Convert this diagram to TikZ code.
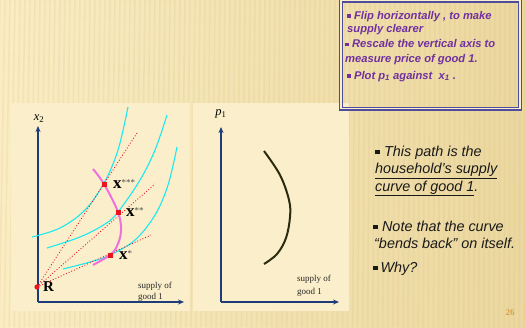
\documentclass[tikz,border=0pt]{standalone}
\usepackage{fontspec}
\setmainfont{Liberation Serif}
\setsansfont{Liberation Sans}
\usetikzlibrary{arrows.meta}
\definecolor{bgA}{HTML}{FAEDC4}
\definecolor{bgB}{HTML}{EBD79F}
\definecolor{stripe}{HTML}{D9BE78}
\definecolor{panel}{HTML}{FBEFCB}
\definecolor{axisblue}{HTML}{1F3C7A}
\definecolor{icyan}{HTML}{1CE8F0}
\definecolor{pathmag}{HTML}{F070E0}
\definecolor{ptred}{HTML}{E8141E}
\definecolor{boxline}{HTML}{4E4C9E}
\definecolor{boxtext}{HTML}{7030A0}
\definecolor{supcurve}{HTML}{2B2B10}
\definecolor{pagenum}{HTML}{D9A24A}
\newcommand{\mybul}{\raisebox{0.2ex}{\rule{0.34em}{0.34em}}}
\begin{document}
\begin{tikzpicture}[x=1pt,y=-1pt,
  axis/.style={draw=axisblue,line width=1.4pt,-{Stealth[length=6pt,width=5pt]}},
  icurve/.style={draw=icyan,line width=1.1pt},
  budget/.style={draw=ptred,line width=0.9pt,dotted},
  ptsq/.style={fill=ptred,minimum size=5pt,inner sep=0pt,rectangle},
  lbl/.style={font=\fontsize{9}{10}\selectfont,text=black!85,anchor=base west,inner sep=0pt},
  boxtxt/.style={font=\sffamily\bfseries\itshape\fontsize{11.2}{13}\selectfont,text=boxtext,anchor=base west,inner sep=0pt},
  sidetxt/.style={font=\sffamily\itshape\fontsize{14.4}{17}\selectfont,text=black!90,anchor=base west,inner sep=0pt},
  xlbl/.style={font=\bfseries\fontsize{17}{18}\selectfont,anchor=west,inner sep=0pt},
  stars/.style={font=\fontsize{9}{9}\selectfont,text=black!70}]
\useasboundingbox (0,0) rectangle (525,327);
\shade[left color=bgA,right color=bgB] (0,0) rectangle (525,327);
\foreach \i in {0,5,...,525} {
  \draw[stripe,opacity=0.18,line width=1.6pt] (\i,0) -- (\i-6+\i*0.01,327);
}
% panels
\fill[panel] (11,103) rectangle (190,311);
\fill[panel] (193,103) rectangle (349,311);
% left panel axes
\coordinate (O1) at (38,302);
\coordinate (Y1) at (38,126);
\coordinate (X1) at (184,302);
\draw[axis] (O1) -- (Y1);
\draw[axis] (O1) -- (X1);
\node[inner sep=0pt] (x2) at (39,119) {\fontsize{12.5}{12}\selectfont\textit{x}\textsubscript{2}};
% indifference curves
\draw[icurve] plot[smooth,tension=0.6] coordinates {(32,237) (60,228) (85,210) (104,183) (118,150) (128,107)};
\draw[icurve] plot[smooth,tension=0.6] coordinates {(47,248) (80,237) (105,224) (118,212) (140,180) (155,150) (167,115)};
\draw[icurve] plot[smooth,tension=0.6] coordinates {(63,269) (90,262) (110,255) (135,240) (155,215) (168,185) (177,147)};
% points
\coordinate (R) at (37,287);
\coordinate (A) at (104,184);
\coordinate (B) at (118,212);
\coordinate (C) at (110,255);
\coordinate (Ae) at (137,133);
\coordinate (Be) at (155,184);
\coordinate (Ce) at (151,235);
\draw[budget] (R) -- (Ae);
\draw[budget] (R) -- (Be);
\draw[budget] (R) -- (Ce);
% supply path
\draw[pathmag,line width=2pt] plot[smooth,tension=0.6] coordinates {(93,169) (104,184) (118,212) (121,231) (117,246) (110,255) (93,265)};
\node[ptsq] (pA) at (A) {};
\node[ptsq] (pB) at (B) {};
\node[ptsq] (pC) at (C) {};
\fill[ptred] (R) circle (2.6pt);
\node[xlbl] (lA) at (113,184) {x\raisebox{0.45ex}{\fontsize{9}{9}\selectfont\mdseries\color{black!70}***}};
\node[xlbl] (lB) at (126,212) {x\raisebox{0.45ex}{\fontsize{9}{9}\selectfont\mdseries\color{black!70}**}};
\node[xlbl] (lC) at (119,255) {x\raisebox{0.45ex}{\fontsize{9}{9}\selectfont\mdseries\color{black!70}*}};
\node[xlbl,font=\bfseries\fontsize{15}{16}\selectfont] (lR) at (43,287) {R};
\node[lbl] (s1a) at (138,288) {supply of};
\node[lbl] (s1b) at (138,299) {good 1};
% right panel
\coordinate (O2) at (221,302);
\coordinate (Y2) at (221,127);
\coordinate (X2) at (339,302);
\draw[axis] (O2) -- (Y2);
\draw[axis] (O2) -- (X2);
\node[inner sep=0pt] (p1) at (221,114) {\fontsize{12.5}{12}\selectfont\textit{p}\textsubscript{1}};
\draw[supcurve,line width=2pt] plot[smooth,tension=0.6] coordinates {(264,151) (280,175) (289,200) (290,217) (286,238) (277,254) (264,264)};
\node[lbl] (s2a) at (297,281) {supply of};
\node[lbl] (s2b) at (297,294) {good 1};
% top box
\draw[draw=boxline,line width=1.2pt,double=panel,double distance=1.6pt] (341,0.5) rectangle (520,108.5);
\node[boxtxt] (b1) at (347,19) {\mybul\ Flip horizontally , to make};
\node[boxtxt] (b2) at (347,32.5) {supply clearer};
\node[boxtxt] (b3) at (345,47.5) {\mybul\ Rescale the vertical axis to};
\node[boxtxt] (b4) at (345,62) {measure price of good 1.};
\node[boxtxt] (b5) at (347,79) {\mybul\ Plot p\textsubscript{1} against\ \ x\textsubscript{1} .};
% side text
\node[sidetxt] (t1) at (375,156) {\mybul\ This path is the};
\node[sidetxt] (t2) at (375,173.5) {\underline{household’s supply}};
\node[sidetxt] (t3) at (375,191) {\underline{curve of good 1}.};
\node[sidetxt] (t4) at (373,231) {\mybul\ Note that the curve};
\node[sidetxt] (t5) at (374,248) {“bends back” on itself.};
\node[sidetxt] (t6) at (373,272) {\mybul\,Why?};
\node[font=\bfseries\fontsize{9}{9}\selectfont,text=pagenum,inner sep=0pt] (pg) at (510,313) {26};
\end{tikzpicture}
\end{document}
